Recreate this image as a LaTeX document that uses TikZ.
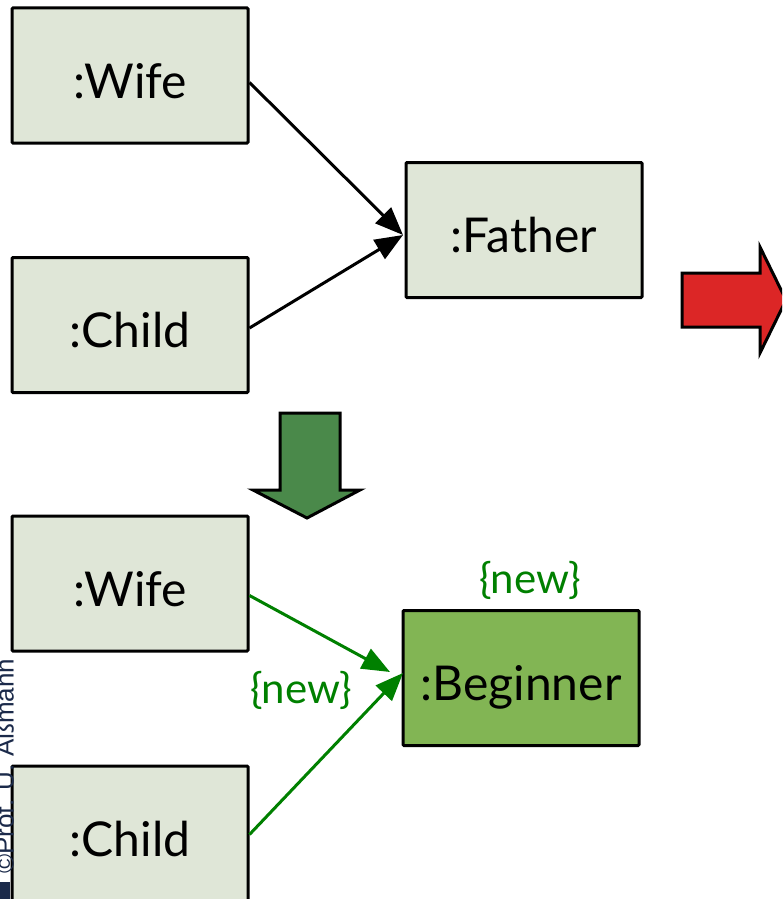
\documentclass[tikz,border=0pt]{standalone}
\usepackage{fontspec}
\setmainfont{Lato}
\newfontfamily\copyfont{Liberation Sans}
\usetikzlibrary{arrows.meta,calc}
\definecolor{boxfill}{RGB}{223,230,215}
\definecolor{newfill}{RGB}{130,181,84}
\definecolor{newgreen}{RGB}{0,128,0}
\definecolor{downfill}{RGB}{74,137,74}
\definecolor{redfill}{RGB}{220,38,38}
\definecolor{navy}{RGB}{27,42,74}
\tikzset{
  obj/.style={draw=black, line width=3pt, fill=boxfill, minimum width=236pt, minimum height=135pt, inner sep=0pt, text height=45pt, text depth=0pt, font=\fontsize{48}{52}\selectfont, rounded corners=1pt},
  newobj/.style={obj, fill=newfill},
  link/.style={line width=3pt, -{Triangle[length=28pt,width=22pt]}},
  newlink/.style={link, draw=newgreen, -{Triangle[length=28pt,width=22pt,fill=newgreen]}},
  newlabel/.style={text=newgreen, font=\fontsize{42}{46}\selectfont, inner sep=0pt},
  bigarrow/.style={draw=black, line width=3pt, line join=miter}
}
\begin{document}
\begin{tikzpicture}[x=1pt,y=-1pt]
\useasboundingbox (0,0) rectangle (782,899);
\clip (0,0) rectangle (782,899);
% top part
\node[obj] (wifeA) at (130,75.5) {:Wife};
\node[obj] (childA) at (130,325) {:Child};
\node[obj] (father) at (524,230) {:Father};
\coordinate (fin) at (403,235);
\draw[link] ([yshift=-7pt]wifeA.east) -- (fin);
\draw[link] ([yshift=-3pt]childA.east) -- (fin);
% red arrow
\draw[bigarrow, fill=redfill] (682,273) -- (760,273) -- (760,247) -- (786,300) -- (760,353) -- (760,327) -- (682,327) -- cycle;
% green down arrow
\draw[bigarrow, fill=downfill] (280,413) -- (340,413) -- (340,490) -- (360,490) -- (307,518) -- (253,490) -- (280,490) -- cycle;
% bottom part
\node[obj] (wifeB) at (130,583.5) {:Wife};
\node[obj] (childB) at (130,833.5) {:Child};
\node[newobj] (beginner) at (521,678) {:Beginner};
\node[newlabel] (newA) at (530,580) {\{new\}};
\node[newlabel] (newB) at (301,690) {\{new\}};
\coordinate (binA) at (390,672);
\coordinate (binB) at (403,673);
\draw[newlink] ([yshift=-12pt]wifeB.east) -- (binA);
\draw[newlink] ([yshift=-1pt]childB.east) -- (binB);
% copyright
\fill[navy] (0,882) rectangle (10,899);
\node[rotate=90, anchor=south west, inner sep=0pt, text=navy, font=\copyfont\fontsize{26}{28}\selectfont] (copy) at (14,874) {\textcopyright Prof. U. Aßmann};
\end{tikzpicture}
\end{document}
